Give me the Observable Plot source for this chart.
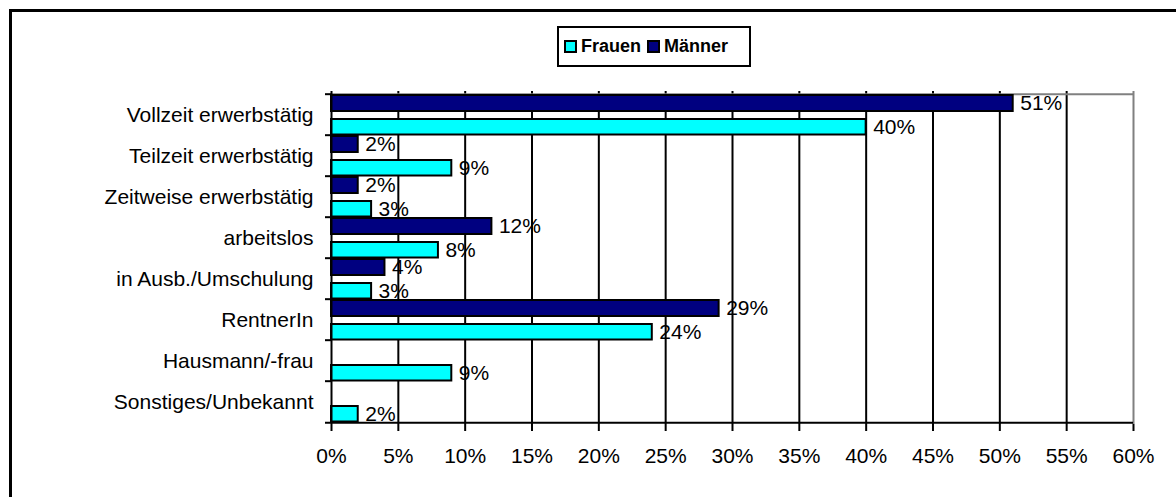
<!DOCTYPE html>
<html><head><meta charset="utf-8">
<script src="https://cdn.jsdelivr.net/npm/d3@7"></script>
<script src="https://cdn.jsdelivr.net/npm/@observablehq/plot@0.6"></script>
<style>
html,body{margin:0;padding:0;background:#fff;overflow:hidden;}
#wrap{position:relative;width:1176px;height:497px;overflow:hidden;font-family:"Liberation Sans",Arial,sans-serif;}
#outer{position:absolute;left:9px;top:9px;width:1400px;height:700px;border-top:3px solid #000;border-left:3px solid #000;}
#chart{position:absolute;left:0;top:0;}
#legend{position:absolute;left:557px;top:26px;width:194px;height:41px;box-sizing:border-box;border:2px solid #000;background:#fff;display:flex;align-items:center;padding-left:5px;font-weight:bold;font-size:18px;color:#000;}
#legend .item{display:flex;align-items:center;margin-right:6px;}
#legend .sw{width:13px;height:13px;box-sizing:border-box;border:2px solid #000;margin-right:4px;}
</style></head>
<body><div id="wrap"><div id="outer"></div><div id="chart"></div><div id="legend"></div></div>
<script>
const categories = ["Vollzeit erwerbstätig","Teilzeit erwerbstätig","Zeitweise erwerbstätig","arbeitslos","in Ausb./Umschulung","RentnerIn","Hausmann/-frau","Sonstiges/Unbekannt"];
const frauen = [40, 9, 3, 8, 3, 24, 9, 2];
const maenner = [51, 2, 2, 12, 4, 29, null, null];
const seriesNames = ["Frauen", "Männer"];
const seriesColors = ["#00FFFF", "#000080"];
const xTicks = [0, 5, 10, 15, 20, 25, 30, 35, 40, 45, 50, 55, 60];

const W = 1176, H = 497, mT = 91, mB = 73, mL = 331, mR = 43;
const step = (H - mT - mB) / categories.length;

const rowsM = categories.map((c, i) => ({cat: c, series: seriesNames[1], value: maenner[i]})).filter(d => d.value != null);
const rowsF = categories.map((c, i) => ({cat: c, series: seriesNames[0], value: frauen[i]})).filter(d => d.value != null);
const xMax = xTicks[xTicks.length - 1];

const plot = Plot.plot({
  width: W, height: H,
  marginTop: mT, marginBottom: mB, marginLeft: mL, marginRight: mR,
  style: {fontFamily: "'Liberation Sans', Arial, sans-serif", fontSize: "21px", color: "#000", background: "transparent"},
  x: {domain: [0, xMax]},
  y: {type: "band", domain: categories, padding: 0},
  marks: [
    Plot.ruleX(xTicks.filter(t => t > 0 && t < xMax), {stroke: "#000", strokeWidth: 2}),
    Plot.ruleX([xMax], {stroke: "#808080", strokeWidth: 2}),
    Plot.ruleY([categories[0]], {y: d => d, x1: 0, x2: xMax, dy: -step / 2, stroke: "#808080", strokeWidth: 2}),
    Plot.barX(rowsM, {x1: 0, x2: "value", y: "cat", fill: seriesColors[1], stroke: "#000", strokeWidth: 2, insetTop: 1, insetBottom: 24}),
    Plot.barX(rowsF, {x1: 0, x2: "value", y: "cat", fill: seriesColors[0], stroke: "#000", strokeWidth: 2, insetTop: 25, insetBottom: 0.5}),
    Plot.text(rowsM, {x: "value", y: "cat", text: d => d.value + "%", textAnchor: "start", dx: 7, dy: -11.5, fontSize: 21, fill: "#000"}),
    Plot.text(rowsF, {x: "value", y: "cat", text: d => d.value + "%", textAnchor: "start", dx: 7, dy: 12, fontSize: 21, fill: "#000"}),
    Plot.ruleX([0], {stroke: "#000", strokeWidth: 2}),
    Plot.ruleY(categories, {y: d => d, x1: 0, x2: 0, insetLeft: -6, dy: -step / 2, stroke: "#000", strokeWidth: 2}),
    Plot.ruleY([categories[categories.length - 1]], {y: d => d, x1: 0, x2: xMax, insetLeft: -6, dy: step / 2, stroke: "#000", strokeWidth: 2}),
    Plot.axisX({ticks: xTicks, tickFormat: d => d + "%", tickSize: 7, tickPadding: 17, fontSize: 21, strokeWidth: 2, label: null}),
    Plot.axisY({tickSize: 0, tickPadding: 18, fontSize: 21, label: null})
  ]
});
document.getElementById("chart").appendChild(plot);

const legend = document.getElementById("legend");
seriesNames.forEach((name, i) => {
  const item = document.createElement("div");
  item.className = "item";
  const sw = document.createElement("div");
  sw.className = "sw";
  sw.style.background = seriesColors[i];
  const t = document.createElement("span");
  t.textContent = name;
  item.appendChild(sw); item.appendChild(t);
  legend.appendChild(item);
});
</script>
</body></html>
